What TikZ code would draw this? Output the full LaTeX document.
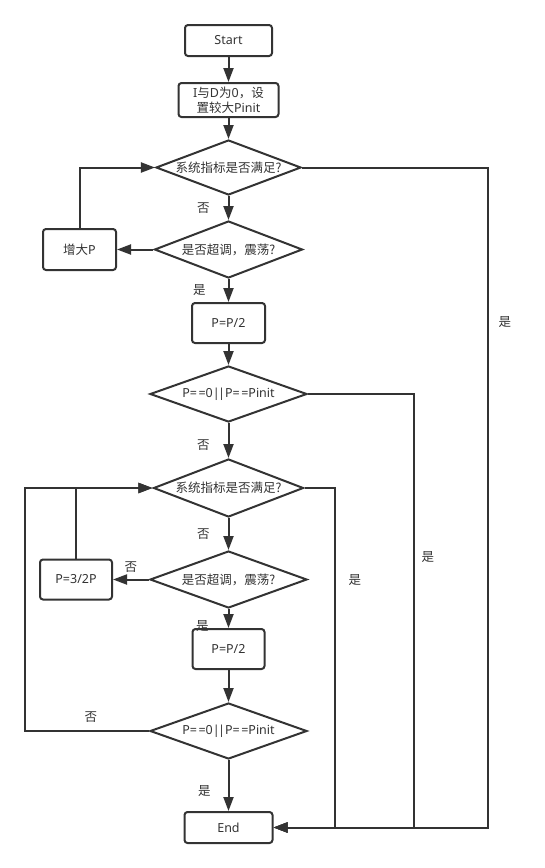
\documentclass[tikz,border=0pt]{standalone}
\usepackage{fontspec}
\setmainfont{Noto Sans}
\newfontfamily\cjk{Noto Sans CJK SC}
\usepackage{xcolor}
\usetikzlibrary{shapes.geometric,arrows.meta}
\definecolor{ink}{HTML}{333333}
\newcommand{\pbound}{P=\kern1.5pt=0|\kern-1.5pt|P=\kern1.5pt=Pinit}

\begin{document}
\begin{tikzpicture}[x=1pt, y=-1pt, line width=2pt, color=ink,
    font=\fontsize{12.5}{15}\selectfont,
    stepbox/.style={draw, rounded corners=3pt, align=center, inner sep=0pt},
    test/.style={draw, diamond, aspect=2.6, inner sep=0pt},
    flow/.style={-{Triangle[length=14pt,width=10pt]}},
    tag/.style={inner sep=1pt, font=\fontsize{12.5}{15}\cjk}]
    \useasboundingbox (0,0) rectangle (544,868);
    % boxes and tests
    \node[stepbox, minimum width=87pt, minimum height=31pt] (start) at (228.5,40.5) {Start};
    \node[stepbox, minimum width=100pt, minimum height=34pt] (init) at (228.5,100) {I{\cjk 与}D{\cjk 为}0{\cjk ，设}\\{\cjk 置较大}Pinit};
    \node[test, minimum width=145pt, minimum height=55pt] (meet1) at (228.5,167.5) {\cjk 系统指标是否满足?};
    \node[test, minimum width=148pt, minimum height=57pt] (swing1) at (228.5,249.5) {\cjk 是否超调，震荡?};
    \node[stepbox, minimum width=73pt, minimum height=41pt] (raise) at (79.5,249.5) {{\cjk 增大}P};
    \node[stepbox, minimum width=73pt, minimum height=40pt] (half1) at (228.5,323) {P=P/2};
    \node[test, minimum width=157pt, minimum height=56pt] (bound1) at (228.5,394) {\pbound};
    \node[test, minimum width=150pt, minimum height=58pt] (meet2) at (228.5,488) {\cjk 系统指标是否满足?};
    \node[test, minimum width=157pt, minimum height=57pt] (swing2) at (228.5,579.5) {\cjk 是否超调，震荡?};
    \node[stepbox, minimum width=72pt, minimum height=40pt] (boost) at (76,579.5) {P=3/2P};
    \node[stepbox, minimum width=72pt, minimum height=40pt] (half2) at (228.5,649) {P=P/2};
    \node[test, minimum width=157pt, minimum height=56pt] (bound2) at (228.5,731) {\pbound};
    \node[stepbox, minimum width=88pt, minimum height=31pt] (finish) at (228.5,827.5) {End};
    \coordinate (rail1) at (487.5,0);
    \coordinate (rail2) at (413.5,0);
    \coordinate (rail3) at (334.5,0);
    \coordinate (outer) at (25,0);
    % main column
    \draw[flow] (start) -- (init);
    \draw[flow] (init) -- (meet1);
    \draw[flow] (meet1) -- node[tag, midway, left=17pt] {否} (swing1);
    \draw[flow] (swing1) -- node[tag, midway, left=21pt] {是} (half1);
    \draw[flow] (half1) -- (bound1);
    \draw[flow] (bound1) -- node[tag, midway, left=17pt, yshift=-5pt] {否} (meet2);
    \draw[flow] (meet2) -- node[tag, midway, left=17pt] {否} (swing2);
    \draw[flow] (swing2) -- node[tag, pos=0.9, left=18pt] {是} (half2);
    \draw[flow] (half2) -- (bound2);
    \draw[flow] (bound2) -- node[tag, midway, left=16pt, yshift=-6pt] {是} (finish);
    % side boxes and loops
    \draw[flow] (swing1) -- (raise);
    \draw[flow] (raise) -- (raise |- meet1) -- (meet1);
    \draw[flow] (swing2) -- node[tag, midway, above=5pt] {否} (boost);
    \draw[flow] (boost) -- (boost |- meet2) -- (meet2);
    \draw[flow] (bound2) -- node[tag, midway, above=7pt, xshift=4pt] {否} (bound2 -| outer) -- (outer |- meet2) -- (meet2);
    % exits to End
    \draw[flow] (meet1) -- (meet1 -| rail1) -- node[tag, pos=0.234, right=9pt] {是} (rail1 |- finish) -- (finish);
    \draw[flow] (bound1) -- (bound1 -| rail2) -- node[tag, pos=0.376, right=6pt] {是} (rail2 |- finish) -- (finish);
    \draw[flow] (meet2) -- (meet2 -| rail3) -- node[tag, pos=0.27, right=12pt] {是} (rail3 |- finish) -- (finish);
\end{tikzpicture}
\end{document}
